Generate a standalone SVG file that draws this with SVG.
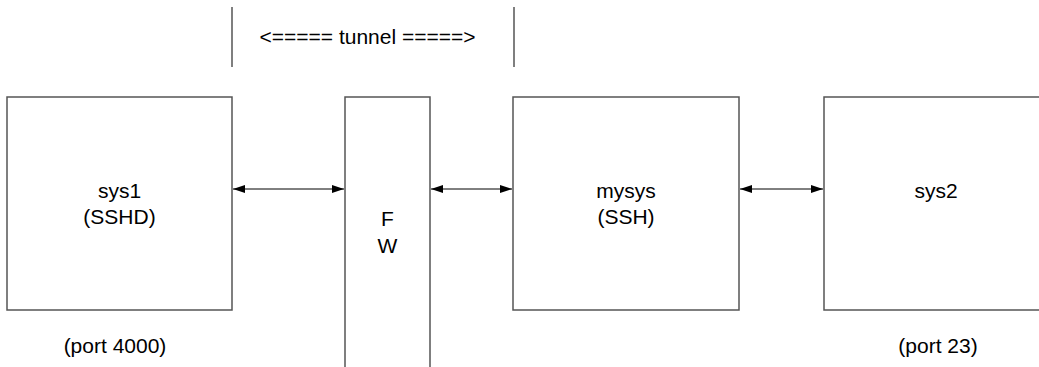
<svg xmlns="http://www.w3.org/2000/svg" width="1039" height="367" viewBox="0 0 1039 367">
<style>
.box{fill:#fff;stroke:#555;stroke-width:1.5}
.t{font-family:"Liberation Sans",Arial,sans-serif;font-size:21px;fill:#000;text-anchor:middle}
.sep{stroke:#555;stroke-width:1.5}
.conn{stroke:#000;stroke-width:1;fill:none;marker-start:url(#ah);marker-end:url(#ah)}
</style>
<defs>
<marker id="ah" viewBox="0 0 12 8" refX="12" refY="4" markerWidth="12" markerHeight="8" markerUnits="userSpaceOnUse" orient="auto-start-reverse">
<path d="M0,0 L12,4 L0,8 Z" fill="#000"/>
</marker>
</defs>
<rect width="1039" height="367" fill="#fff"/>
<g id="tunnel">
<line class="sep" x1="232" y1="7" x2="232" y2="67"/>
<line class="sep" x1="514" y1="7" x2="514" y2="67"/>
<text class="t" x="367.5" y="44">&lt;===== tunnel =====&gt;</text>
</g>
<g id="sys1">
<rect class="box" x="7" y="97" width="225" height="213"/>
<text class="t" x="119.5" y="198">sys1</text>
<text class="t" x="119.5" y="224">(SSHD)</text>
<text class="t" x="115" y="353">(port 4000)</text>
</g>
<g id="fw">
<rect class="box" x="345" y="97" width="85" height="280"/>
<text class="t" x="387.5" y="226">F</text>
<text class="t" x="387.5" y="253">W</text>
</g>
<g id="mysys">
<rect class="box" x="513" y="97" width="226" height="213"/>
<text class="t" x="626" y="198">mysys</text>
<text class="t" x="626" y="224">(SSH)</text>
</g>
<g id="sys2">
<rect class="box" x="824" y="97" width="230" height="213"/>
<text class="t" x="936" y="198">sys2</text>
<text class="t" x="938" y="353">(port 23)</text>
</g>
<g id="connectors">
<line class="conn" x1="233" y1="189" x2="344" y2="189"/>
<line class="conn" x1="431" y1="189" x2="512" y2="189"/>
<line class="conn" x1="740" y1="189" x2="823" y2="189"/>
</g>
</svg>
